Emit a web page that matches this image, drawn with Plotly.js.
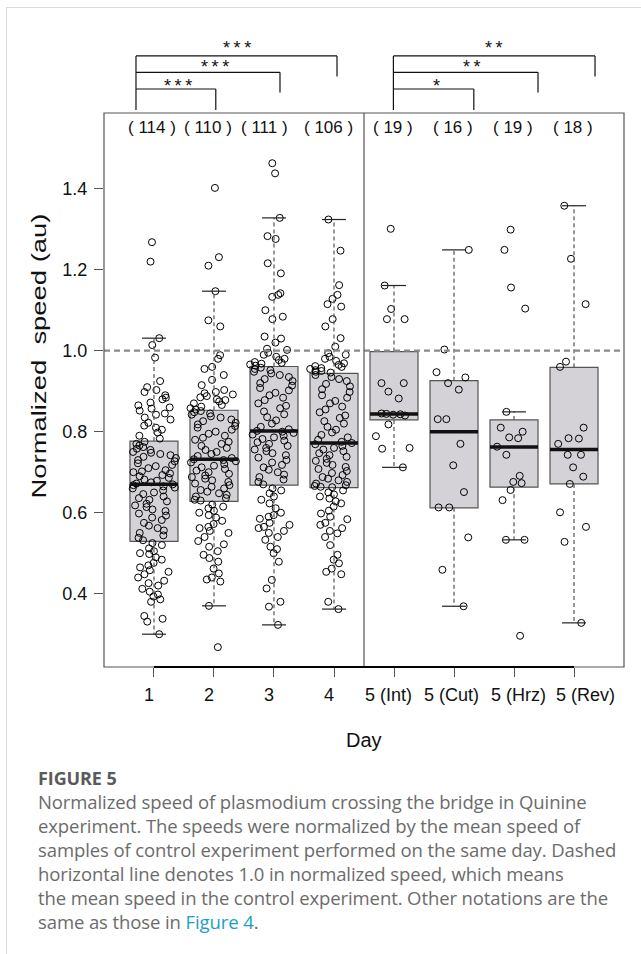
<!DOCTYPE html>
<html>
<head>
<meta charset="utf-8">
<script src="https://cdn.plot.ly/plotly-3.0.1.min.js"></script>
<style>
html,body{margin:0;padding:0;background:#fff;}
#wrap{position:relative;width:641px;height:954px;overflow:hidden;background:#fff;}
#chart{position:absolute;left:0;top:0;width:641px;height:954px;}
#frameTop{position:absolute;left:6px;top:7px;right:0;height:0;border-top:1px solid #dcdcdc;}
#frameLeft{position:absolute;left:6px;top:7px;bottom:0;width:0;border-left:1px solid #dcdcdc;}
#caption{position:absolute;left:38px;top:766px;font-family:'Open Sans',sans-serif;color:#6b6b6b;font-size:18.5px;line-height:24px;white-space:nowrap;letter-spacing:-0.1px;}
#caption .fig{font-weight:700;color:#5a5a5a;font-size:18px;}
#caption .lnk{color:#1a9fc4;}
</style>
</head>
<body>
<div id="wrap">
  <div id="frameTop"></div>
  <div id="frameLeft"></div>
  <div id="chart"></div>
  <div id="caption"><div class="fig">FIGURE 5</div>Normalized speed of plasmodium crossing the bridge in Quinine<br>experiment. The speeds were normalized by the mean speed of<br>samples of control experiment performed on the same day. Dashed<br>horizontal line denotes 1.0 in normalized speed, which means<br>the mean speed in the control experiment. Other notations are the<br>same as those in <span class="lnk">Figure 4</span>.</div>
</div>
<script>
// ---------------- data ----------------
const categories = ['1', '2', '3', '4', '5 (Int)', '5 (Cut)', '5 (Hrz)', '5 (Rev)'];
const counts = [114, 110, 111, 106, 19, 16, 19, 18];

// box summary
const q1 = [0.529, 0.628, 0.668, 0.662, 0.829, 0.612, 0.663, 0.671];
const medians = [0.670, 0.732, 0.802, 0.772, 0.844, 0.800, 0.762, 0.756];
const q3 = [0.777, 0.853, 0.961, 0.944, 0.998, 0.926, 0.829, 0.959];
const whiskerLow = [0.300, 0.370, 0.323, 0.362, 0.712, 0.369, 0.533, 0.328];
const whiskerHigh = [1.031, 1.147, 1.328, 1.324, 1.161, 1.249, 0.849, 1.358];

// individual samples
const day1 = [1.268, 1.220, 1.031, 1.014, 0.983, 0.925, 0.910, 0.903, 0.898, 0.890, 0.884, 0.880, 0.872, 0.865, 0.860, 0.857, 0.852, 0.845, 0.842, 0.835, 0.830, 0.822, 0.815, 0.810, 0.805, 0.798, 0.790, 0.783,
  0.775, 0.770, 0.766, 0.762, 0.758, 0.755, 0.750, 0.748, 0.745, 0.742, 0.738, 0.735, 0.730, 0.727, 0.722, 0.718, 0.715, 0.710, 0.705, 0.702, 0.700, 0.697, 0.693, 0.690, 0.686, 0.682, 0.679, 0.675, 0.672,
  0.670,
  0.668, 0.665, 0.662, 0.660, 0.655, 0.650, 0.646, 0.640, 0.636, 0.632, 0.628, 0.622, 0.618, 0.614, 0.608, 0.604, 0.598, 0.593, 0.588, 0.582, 0.575, 0.568, 0.562, 0.556, 0.550, 0.544, 0.538, 0.532,
  0.525, 0.520, 0.512, 0.505, 0.500, 0.498, 0.490, 0.484, 0.476, 0.470, 0.465, 0.458, 0.454, 0.448, 0.440, 0.432, 0.426, 0.420, 0.412, 0.405, 0.398, 0.393, 0.386, 0.380, 0.345, 0.338, 0.331, 0.300];
const day2 = [1.402, 1.231, 1.210, 1.147, 1.075, 1.060, 0.989, 0.980, 0.960, 0.955, 0.940, 0.928, 0.915, 0.903, 0.898, 0.895, 0.892, 0.888, 0.885, 0.880, 0.878, 0.875, 0.870, 0.866, 0.862, 0.858, 0.855,
  0.851, 0.848, 0.845, 0.842, 0.838, 0.835, 0.830, 0.826, 0.822, 0.818, 0.814, 0.810, 0.805, 0.800, 0.795, 0.790, 0.785, 0.780, 0.775, 0.770, 0.765, 0.760, 0.755, 0.750, 0.745, 0.740, 0.735,
  0.732,
  0.730, 0.727, 0.724, 0.720, 0.716, 0.712, 0.708, 0.704, 0.700, 0.696, 0.692, 0.688, 0.684, 0.680, 0.676, 0.672, 0.668, 0.664, 0.660, 0.656, 0.652, 0.648, 0.644, 0.640, 0.636, 0.632, 0.630,
  0.620, 0.615, 0.611, 0.605, 0.600, 0.594, 0.588, 0.580, 0.572, 0.565, 0.562, 0.555, 0.550, 0.540, 0.530, 0.522, 0.516, 0.505, 0.496, 0.488, 0.479, 0.462, 0.450, 0.440, 0.435, 0.430, 0.370, 0.268];
const day3 = [1.463, 1.438, 1.328, 1.283, 1.276, 1.216, 1.191, 1.142, 1.138, 1.133, 1.100, 1.084, 1.078, 1.035, 1.030, 1.020, 1.005, 1.002, 0.995, 0.990, 0.985, 0.980, 0.977, 0.972, 0.970, 0.968, 0.966, 0.963,
  0.958, 0.955, 0.952, 0.948, 0.944, 0.940, 0.935, 0.930, 0.925, 0.920, 0.914, 0.908, 0.902, 0.896, 0.890, 0.884, 0.878, 0.870, 0.864, 0.858, 0.850, 0.843, 0.836, 0.828, 0.820, 0.812, 0.806,
  0.802,
  0.800, 0.797, 0.793, 0.790, 0.786, 0.782, 0.778, 0.774, 0.770, 0.765, 0.760, 0.756, 0.752, 0.747, 0.742, 0.736, 0.730, 0.724, 0.718, 0.712, 0.706, 0.700, 0.694, 0.688, 0.682, 0.676, 0.670,
  0.660, 0.655, 0.648, 0.640, 0.632, 0.623, 0.611, 0.600, 0.594, 0.590, 0.585, 0.575, 0.570, 0.565, 0.562, 0.555, 0.550, 0.540, 0.533, 0.516, 0.510, 0.500, 0.479, 0.434, 0.413, 0.380, 0.368, 0.323];
const day4 = [1.324, 1.247, 1.162, 1.138, 1.128, 1.115, 1.109, 1.078, 1.060, 1.031, 1.010, 0.994, 0.990, 0.985, 0.980, 0.975, 0.969, 0.965, 0.962, 0.960, 0.957, 0.955, 0.952, 0.950, 0.948, 0.946,
  0.940, 0.935, 0.930, 0.925, 0.918, 0.912, 0.905, 0.898, 0.890, 0.884, 0.876, 0.870, 0.862, 0.855, 0.848, 0.840, 0.834, 0.826, 0.820, 0.812, 0.805, 0.798, 0.792, 0.786, 0.780, 0.775,
  0.772,
  0.769, 0.765, 0.760, 0.756, 0.752, 0.747, 0.742, 0.738, 0.733, 0.728, 0.723, 0.718, 0.713, 0.708, 0.703, 0.698, 0.693, 0.688, 0.684, 0.680, 0.676, 0.672, 0.668, 0.666, 0.664, 0.663,
  0.655, 0.650, 0.645, 0.640, 0.635, 0.628, 0.623, 0.615, 0.605, 0.598, 0.590, 0.584, 0.575, 0.570, 0.562, 0.555, 0.549, 0.540, 0.520, 0.496, 0.484, 0.475, 0.462, 0.454, 0.448, 0.380, 0.362];
const day5Int = [1.301, 1.161, 1.103, 1.078, 1.078, 0.920, 0.920, 0.899, 0.882, 0.845, 0.844, 0.843, 0.842, 0.840, 0.818, 0.789, 0.760, 0.758, 0.712];
const day5Cut = [1.249, 1.003, 0.947, 0.934, 0.920, 0.904, 0.831, 0.831, 0.770, 0.717, 0.651, 0.613, 0.613, 0.539, 0.459, 0.369];
const day5Hrz = [1.299, 1.249, 1.156, 1.104, 0.849, 0.810, 0.800, 0.786, 0.784, 0.763, 0.743, 0.691, 0.676, 0.673, 0.656, 0.631, 0.533, 0.533, 0.296];
const day5Rev = [1.358, 1.227, 1.115, 0.973, 0.960, 0.810, 0.784, 0.783, 0.770, 0.743, 0.743, 0.712, 0.689, 0.671, 0.601, 0.565, 0.528, 0.328];
const samples = [day1, day2, day3, day4, day5Int, day5Cut, day5Hrz, day5Rev];

// significance brackets (group a vs group b, stars)
const leftPairs = [['1', '4', '***'], ['1', '3', '***'], ['1', '2', '***']];
const rightPairs = [['5 (Int)', '5 (Rev)', '**'], ['5 (Int)', '5 (Hrz)', '**'], ['5 (Int)', '5 (Cut)', '*']];

// ---------------- styling / layout ----------------
const pos = categories.map((c, i) => i + 1);
const FONT = 'Liberation Sans, Arial, Helvetica, sans-serif';
const BOXW = 0.8, CAPW = 0.4;
const TXT = '#111';

const traces = [];
// boxes (whiskers drawn separately, dashed)
traces.push({
  type: 'box', x: pos, q1: q1, median: medians, q3: q3,
  lowerfence: q1, upperfence: q3,
  width: BOXW, whiskerwidth: 0, boxpoints: false,
  fillcolor: '#d4d2d7', line: {color: '#555555', width: 1.2},
  hoverinfo: 'skip', showlegend: false
});
// jittered points
samples.forEach((s, i) => {
  traces.push({
    type: 'box', y: s, x0: pos[i], width: BOXW,
    boxpoints: 'all', jitter: 1, pointpos: 0,
    fillcolor: 'rgba(0,0,0,0)', line: {color: 'rgba(0,0,0,0)', width: 0},
    marker: {symbol: 'circle-open', size: 7, color: '#000', line: {width: 1, color: '#000'}},
    hoverinfo: 'skip', showlegend: false
  });
});
// whiskers
const wx = [], wy = [];
pos.forEach((p, i) => { wx.push(p, p, null, p, p, null); wy.push(q3[i], whiskerHigh[i], null, q1[i], whiskerLow[i], null); });
traces.push({type: 'scatter', mode: 'lines', x: wx, y: wy, line: {color: '#555', width: 1.2, dash: '4px,3px'}, hoverinfo: 'skip', showlegend: false});
// caps
const cx = [], cy = [];
pos.forEach((p, i) => { cx.push(p - CAPW / 2, p + CAPW / 2, null, p - CAPW / 2, p + CAPW / 2, null); cy.push(whiskerHigh[i], whiskerHigh[i], null, whiskerLow[i], whiskerLow[i], null); });
traces.push({type: 'scatter', mode: 'lines', x: cx, y: cy, line: {color: '#222', width: 1.2}, hoverinfo: 'skip', showlegend: false});
// medians
const mx = [], my = [];
pos.forEach((p, i) => { mx.push(p - BOXW / 2, p + BOXW / 2, null); my.push(medians[i], medians[i], null); });
traces.push({type: 'scatter', mode: 'lines', x: mx, y: my, line: {color: '#111', width: 3.5}, hoverinfo: 'skip', showlegend: false});

// shapes
const shapes = [
  {type: 'line', xref: 'paper', yref: 'y', x0: 0, x1: 1, y0: 1, y1: 1, line: {color: '#8a8a8a', width: 2.2, dash: '6px,4px'}, layer: 'above'},
  {type: 'line', xref: 'x', yref: 'paper', x0: 4.5, x1: 4.5, y0: 0, y1: 1, line: {color: '#555', width: 1.2}},
  {type: 'rect', xref: 'paper', yref: 'paper', x0: 0, x1: 1, y0: 0, y1: 1, line: {color: '#555', width: 1.2}},
  {type: 'line', xref: 'x', yref: 'paper', x0: pos[0], x1: pos[pos.length - 1], y0: 0, y1: 0, line: {color: '#000', width: 2}}
];
const annotations = [];

// brackets: anchor x (left leg), right leg x, levels
const bracketLevels = [1.103, 1.0735, 1.0433];
const dropLevels = [1.066, 1.037, 1.0054];
const starLevels = [1.117, 1.083, 1.049];
function addBrackets(pairs, leftX, rightXs, starXs) {
  shapes.push({type: 'line', xref: 'x', yref: 'paper', x0: leftX, x1: leftX, y0: 1.0054, y1: bracketLevels[0], line: {color: '#111', width: 1.2}});
  pairs.forEach((p, k) => {
    shapes.push({type: 'line', xref: 'x', yref: 'paper', x0: leftX, x1: rightXs[k], y0: bracketLevels[k], y1: bracketLevels[k], line: {color: '#111', width: 1.2}});
    shapes.push({type: 'line', xref: 'x', yref: 'paper', x0: rightXs[k], x1: rightXs[k], y0: bracketLevels[k], y1: dropLevels[k], line: {color: '#111', width: 1.2}});
    annotations.push({xref: 'x', yref: 'paper', x: starXs[k], y: starLevels[k], text: p[2].split('').join('\u2009'), showarrow: false,
      font: {family: FONT, size: 18, color: TXT}, xanchor: 'center', yanchor: 'middle'});
  });
}
addBrackets(leftPairs, 0.70, [4.05, 3.10, 2.03], [2.38, 2.02, 1.40]);
addBrackets(rightPairs, 4.99, [8.35, 7.40, 6.33], [6.67, 6.30, 5.71]);

// counts
const countShift = [-2, -6, -9, -6, -1, -1, -1, -1];
counts.forEach((n, i) => {
  annotations.push({xref: 'x', yref: 'paper', x: pos[i], xshift: countShift[i], y: 0.973, text: '( ' + n + ' )', showarrow: false,
    font: {family: FONT, size: 17, color: TXT}, xanchor: 'center', yanchor: 'middle'});
});
// x tick labels
const labelShift = [-5, -5, -5, -5, -6, -3, 4, 11];
categories.forEach((c, i) => {
  annotations.push({xref: 'x', yref: 'paper', x: pos[i], xshift: labelShift[i], y: -0.0505, text: c, showarrow: false,
    font: {family: FONT, size: 18, color: TXT}, xanchor: 'center', yanchor: 'middle'});
});
// axis titles
annotations.push({xref: 'paper', yref: 'paper', x: 0.5, y: -0.1318, text: 'Day', showarrow: false,
  font: {family: FONT, size: 20, color: TXT}, xanchor: 'center', yanchor: 'middle'});
annotations.push({xref: 'paper', yref: 'paper', x: -0.127, y: 0.561, text: 'Normalized\u00a0 speed (au)', textangle: -90, showarrow: false,
  font: {family: FONT, size: 21, color: TXT}, xanchor: 'center', yanchor: 'middle'});

const layout = {
  width: 641, height: 954,
  margin: {l: 104, r: 17, t: 113, b: 287, pad: 0},
  paper_bgcolor: 'rgba(0,0,0,0)', plot_bgcolor: '#fff',
  showlegend: false, boxmode: 'overlay',
  xaxis: {type: 'linear', range: [0.167, 8.833], tickvals: pos, ticktext: pos.map(() => ''), showticklabels: false,
    ticks: 'outside', ticklen: 9, tickwidth: 1, tickcolor: '#555', showgrid: false, zeroline: false, showline: false, fixedrange: true},
  yaxis: {type: 'linear', range: [0.219, 1.587], tickvals: [0.4, 0.6, 0.8, 1.0, 1.2, 1.4], ticktext: ['0.4', '0.6', '0.8', '1.0', '1.2', '1.4'],
    ticks: 'outside', ticklen: 9, tickwidth: 1, tickcolor: '#555', ticklabelstandoff: 3,
    tickfont: {family: FONT, size: 18, color: TXT}, showgrid: false, zeroline: false, showline: false, fixedrange: true},
  shapes: shapes, annotations: annotations
};

Plotly.newPlot('chart', traces, layout, {staticPlot: true, displayModeBar: false}).then(function (gd) {
  const texts = gd.querySelectorAll('.annotation-text');
  texts.forEach(function (t) {
    if (t.textContent.indexOf('speed (au)') >= 0) {
      t.setAttribute('textLength', '285');
      t.setAttribute('lengthAdjust', 'spacingAndGlyphs');
    }
  });
});
</script>
</body>
</html>
